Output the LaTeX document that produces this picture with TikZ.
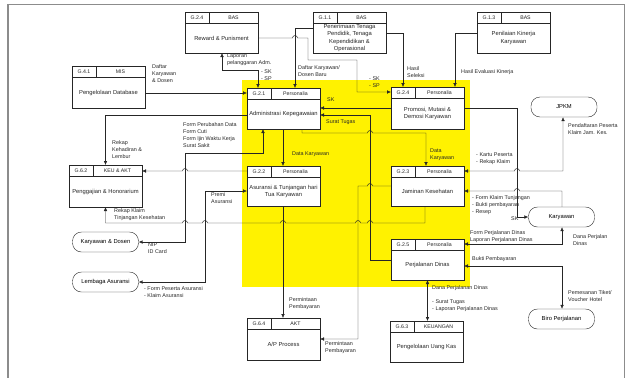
\documentclass[tikz,border=0pt]{standalone}
\usepackage{fontspec}
\setmainfont{Liberation Sans}
\usepackage{tikz}
\usetikzlibrary{shapes.geometric, arrows.meta, calc, positioning}
\tikzstyle{procbox} = [rectangle, draw=black!85, anchor=north west, minimum width=73, inner sep=0pt, outer sep=0pt, fill=white]
\tikzstyle{terminator} = [rectangle, rounded corners=9pt, draw=black!85, minimum width=66, minimum height=20, inner sep=0pt, fill=white]
\tikzstyle{celltext} = [font=\fontsize{5.2}{6}\selectfont, inner sep=0pt, text=black!85]
\tikzstyle{bodytext} = [align=center, inner sep=0pt, text=black!85]
\tikzstyle{flowtext} = [anchor=north west, align=left, inner sep=0pt, text=black!85, font=\fontsize{5.4}{7}\selectfont]
\tikzstyle{arrow} = [draw=black!85, line width=0.45pt, ->, >={Latex[length=4pt,width=3.6pt]}]
% box with header: name, left, top, height, id, unit, text
\newcommand{\prosesbox}[7]{%
	\node[procbox, minimum height=#4] (#1) at (#2,#3) {};
	\draw[black!85] ($(#1.north west)+(0,11)$) -- ($(#1.north east)+(0,11)$);
	\draw[black!85] ($(#1.north west)+(24,0)$) -- ($(#1.north west)+(24,11)$);
	\node[celltext] (#1-id) at ($(#1.north west)+(12,5.5)$) {#5};
	\node[celltext] (#1-unit) at ($(#1.north west)+(48.5,5.5)$) {#6};
	\node[bodytext] (#1-text) at ($(#1.north west)+(36.5,{5.5+#4/2})$) {#7};
}

\begin{document}
\begin{tikzpicture}[x=1pt, y=-1pt, font=\fontsize{5.8}{7.1}\selectfont]
	\useasboundingbox (0,0) rectangle (628,378);
	\draw[black!45, line width=1.6pt] (8,4) -- (8,378);
	\draw[black!45, line width=0.8pt] (8,4) -- (624,4) -- (624,378);
	\fill[yellow] (242,80) rectangle (470,287);

	% boxes
	\prosesbox{Database}{72}{66}{42}{G.4.1}{MIS}{Pengelolaan Database}
	\prosesbox{Reward}{185}{12}{41}{G.2.4}{BAS}{Reward \& Punisment}
	\prosesbox{Rekrutmen}{313}{12}{41}{G.1.1}{BAS}{Penerimaan Tenaga\\Pendidik, Tenaga\\Kependidikan \&\\Operasional}
	\prosesbox{Kinerja}{477}{12}{41}{G.1.3}{BAS}{Penilaian Kinerja\\Karyawan}
	\prosesbox{Administrasi}{247}{88}{41}{G.2.1}{Personalia}{Administrasi Kepegawaian}
	\prosesbox{Promosi}{391}{87}{42}{G.2.4}{Personalia}{Promosi, Mutasi \&\\Demosi Karyawan}
	\prosesbox{Asuransi}{247}{166}{40}{G.2.2}{Personalia}{Asuransi \& Tunjangan hari\\Tua Karyawan}
	\prosesbox{Jaminan}{391}{166}{40}{G.2.3}{Personalia}{Jaminan Kesehatan}
	\prosesbox{Perjalanan}{391}{239}{41}{G.2.5}{Personalia}{Perjalanan Dinas}
	\prosesbox{Penggajian}{69}{165}{42}{G.6.2}{KEU \& AKT}{Penggajian \& Honorarium}
	\prosesbox{APProcess}{247}{318}{42}{G.6.4}{AKT}{A/P Process}
	\prosesbox{UangKas}{390}{321}{41}{G.6.3}{KEUANGAN}{Pengelolaan Uang Kas}

	\node[terminator] (JPKM) at (564,107) {JPKM};
	\node[terminator] (Karyawan) at (561.5,217) {Karyawan};
	\node[terminator] (Biro) at (561.5,319) {Biro Perjalanan};
	\node[terminator] (KaryawanDosen) at (105.5,242) {Karyawan \& Dosen};
	\node[terminator] (LembagaAsuransi) at (105.5,282) {Lembaga Asuransi};

	% connectors
	\draw[arrow, <->] (Reward.south -| 222,0) -- (222,70) -| (Administrasi.north -| 258,0);
	\draw[arrow] (Reward.east |- 0,38) -- (292.5,38) arc (180:360:2.5) -- (308,38) -- (308,60) -- (357,60) |- (Promosi.west |- 0,92);
	\draw[arrow] (Rekrutmen.west |- 0,28) -| (Administrasi.north -| 295,0);
	\draw[arrow] (Rekrutmen.east |- 0,33) -| (Promosi.north -| 403,0);
	\draw[arrow] (Kinerja.west |- 0,33) -| (Promosi.north -| 455,0);
	\draw[arrow] (Database.east |- 0,93) -- (Administrasi.west |- 0,93);
	\draw[arrow] (Administrasi.west |- 0,115) -| (Penggajian.north);
	\draw[arrow, <->] (KaryawanDosen.east) -- (185,242) -- (185,153) -| (Administrasi.south -| 263,0);
	\draw[arrow] (Asuransi.west |- 0,171) -- (187.5,171) arc (0:-180:2.5) -- (Penggajian.east |- 0,171);
	\draw[arrow, <->] (LembagaAsuransi.east) -- (205,282) |- (Asuransi.west |- 0,191);
	\draw[arrow] (Jaminan.south -| 425,0) -- (425,223) -- (372.5,223) arc (0:-180:2.5) -- (360.5,223) arc (0:-180:2.5)
		-- (285.5,223) arc (0:-180:2.5) -- (207.5,223) arc (0:-180:2.5) -- (187.5,223) arc (0:-180:2.5) -| (Penggajian.south);
	\draw[arrow] (Administrasi.south -| 283,0) -- (Asuransi.north -| 283,0);
	\draw[arrow] (Asuransi.south -| 283,0) -- (APProcess.north -| 283,0);
	\draw[arrow] (Jaminan.west |- 0,186) -- (372.5,186) arc (0:-180:2.5) -- (358,186) |- (APProcess.east |- 0,339);
	\draw[arrow] (Perjalanan.west |- 0,260) -| (370,115) -- (Administrasi.east |- 0,115);
	\draw[arrow] (Promosi.west |- 0,108) -- (Administrasi.east |- 0,108);
	\draw[arrow] (Administrasi.south -| 302,0) -- (302,133) -- (367.5,133) arc (180:360:2.5) -| (Jaminan.north -| 426,0);
	\draw[arrow] (Promosi.east |- 0,108) -| (Karyawan.west -| 517,0) -- (Karyawan.west);
	\draw[arrow, <->] (Jaminan.east |- 0,171) -- (514.5,171) arc (180:360:2.5) -| (JPKM.south -| 563,0);
	\draw[arrow] (Karyawan.north -| 562,0) |- (519.5,191) arc (0:-180:2.5) -- (Jaminan.east |- 0,191);
	\draw[arrow, <->] (Karyawan.south -| 562,0) |- (Perjalanan.east |- 0,244);
	\draw[arrow, <->] (Perjalanan.east |- 0,266) -| (Biro.north -| 562,0);
	\draw[arrow, <->] (Perjalanan.south) -- (UangKas.north -| Perjalanan.south);

	% flow texts
	\node[flowtext] (tDaftar) at (152,64) {Daftar\\Karyawan\\\& Dosen};
	\node[flowtext] (tLaporan) at (227,54) {Laporan\\pelanggaran Adm.};
	\node[flowtext] (tSkSpA) at (261,70) {- SK\\- SP};
	\node[flowtext] (tDosenBaru) at (298,65) {Daftar Karyawan/\\Dosen Baru};
	\node[flowtext] (tSkSpB) at (369,77) {- SK\\- SP};
	\node[flowtext] (tSeleksi) at (407,66) {Hasil\\Seleksi};
	\node[flowtext] (tEvaluasi) at (461,69) {Hasil Evaluasi Kinerja};
	\node[flowtext] (tSk) at (327,98) {SK};
	\node[flowtext] (tSuratTugas) at (326,120) {Surat Tugas};
	\node[flowtext] (tForm) at (183,122) {Form Perubahan Data\\Form Cuti\\Form Ijin Waktu Kerja\\Surat Sakit};
	\node[flowtext] (tKehadiran) at (112,140) {Rekap\\Kehadiran \&\\Lembur};
	\node[flowtext] (tDataA) at (292,152) {Data Karyawan};
	\node[flowtext] (tDataB) at (430,149) {Data\\Karyawan};
	\node[flowtext] (tKartu) at (476,153) {- Kartu Peserta\\- Rekap Klaim};
	\node[flowtext] (tDaftarJk) at (568,123) {Pendaftaran Peserta\\Klaim Jam. Kes.};
	\node[flowtext] (tPremi) at (211,192) {Premi\\Asuransi};
	\node[flowtext] (tRekapKlaim) at (114,208) {Rekap Klaim\\Tinjangan Kesehatan};
	\node[flowtext] (tKlaim) at (472,195) {- Form Klaim Tunjangan\\- Bukti pembayaran\\- Resep};
	\node[flowtext] (tSkKar) at (511,217) {SK};
	\node[flowtext] (tFormDinas) at (470,230) {Form Perjalanan Dinas\\Laporan Perjalanan Dinas};
	\node[flowtext] (tDanaA) at (573,234) {Dana Perjalan\\Dinas};
	\node[flowtext] (tNip) at (148,243) {NIP\\ID Card};
	\node[flowtext] (tBukti) at (472,256) {Bukti Pembayaran};
	\node[flowtext] (tPeserta) at (144,286) {- Form Peserta Asuransi\\- Klaim Asuransi};
	\node[flowtext] (tDanaB) at (432,285) {Dana Perjalanan Dinas};
	\node[flowtext] (tTiket) at (568,290) {Pemesanan Tiket/\\Voucher Hotel};
	\node[flowtext] (tMintaA) at (289,297) {Permintaan\\Pembayaran};
	\node[flowtext] (tSuratLap) at (432,300) {- Surat Tugas\\- Laporan Perjalanan Dinas};
	\node[flowtext] (tMintaB) at (325,341) {Permintaan\\Pembayaran};
\end{tikzpicture}
\end{document}
